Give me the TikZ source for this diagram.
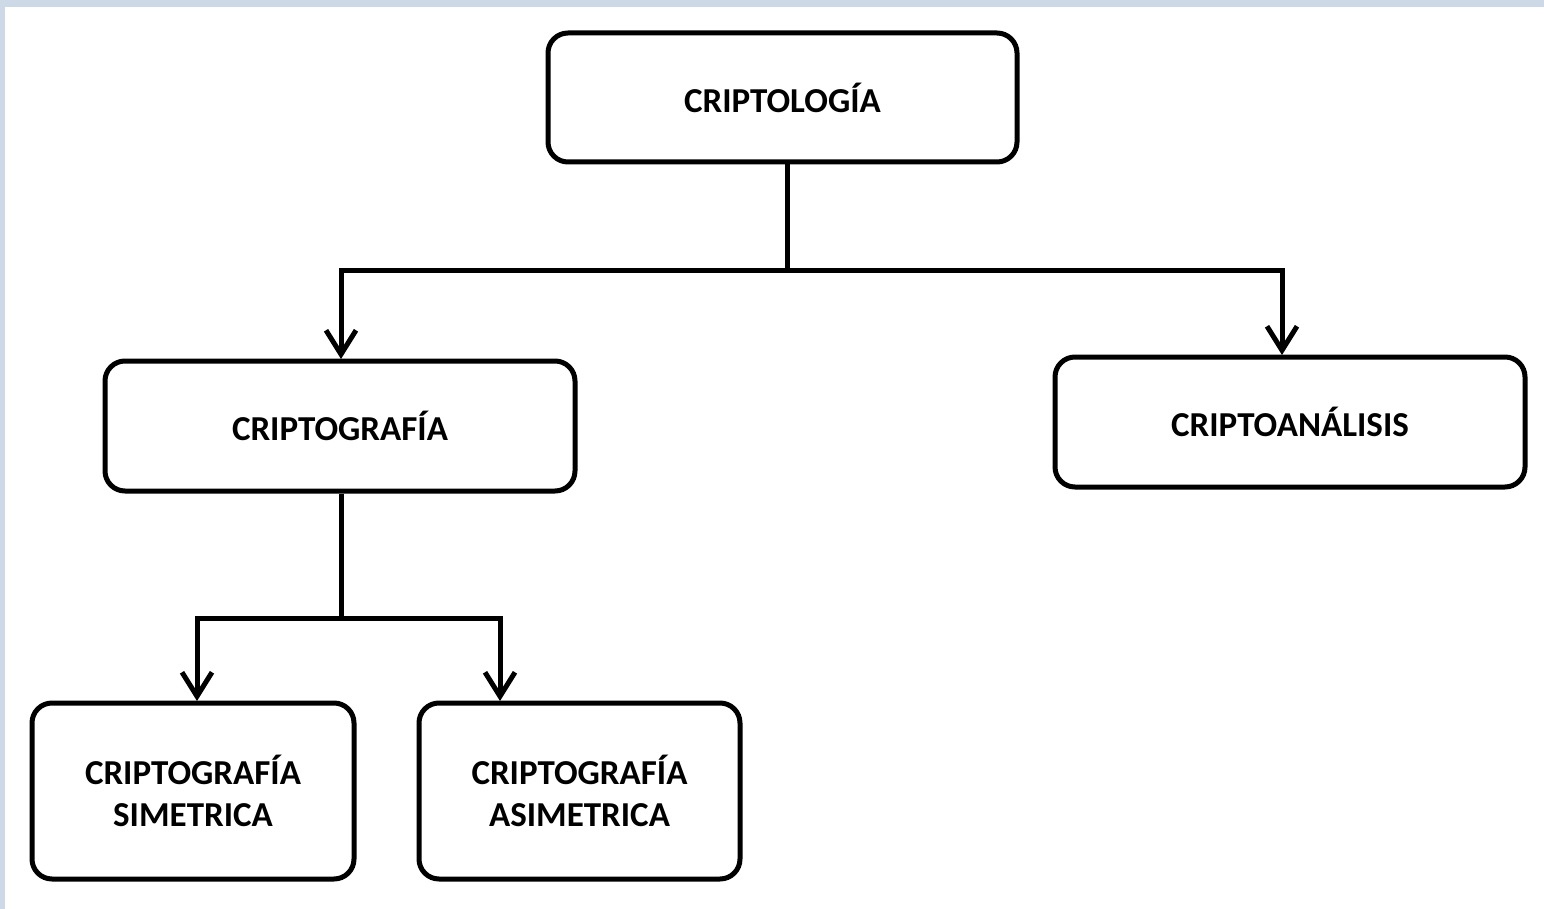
\documentclass[tikz,border=0pt]{standalone}
\usepackage{fontspec}
\setmainfont{Carlito}
\usetikzlibrary{arrows.meta}
\definecolor{framecol}{RGB}{205,217,230}
\begin{document}
\begin{tikzpicture}[x=1pt,y=-1pt,
  box/.style={draw=black,line width=5pt,rounded corners=20pt,fill=white,align=center,
    font=\bfseries\fontsize{35}{42}\selectfont,inner sep=0pt},
  conn/.style={line width=5pt,draw=black},
  arr/.style={conn,-{Straight Barb[length=24pt,width=30pt,line width=5pt]}}]
\useasboundingbox (0,0) rectangle (1544,909);
\fill[white] (0,0) rectangle (1544,909);
\fill[framecol] (0,0) rectangle (1544,7);
\fill[framecol] (0,0) rectangle (5,909);
\node[box,minimum width=469pt,minimum height=129pt] (root) at (782.5,97.5) {CRIPTOLOGÍA};
\node[box,minimum width=470pt,minimum height=130pt] (cg) at (340,426) {CRIPTOGRAFÍA};
\node[box,minimum width=470pt,minimum height=130pt] (ca) at (1290,422) {CRIPTOANÁLISIS};
\node[box,minimum width=322pt,minimum height=176pt] (sim) at (193,791) {CRIPTOGRAFÍA\\SIMETRICA};
\node[box,minimum width=321pt,minimum height=176pt] (asim) at (579.5,791) {CRIPTOGRAFÍA\\ASIMETRICA};
\coordinate (j1) at (787,271);
\coordinate (j2) at (341,618);
\draw[conn] (root.south -| j1) -- (j1);
\draw[arr] (j1) -- (341,271) -- (341,361-2);
\draw[arr] (j1) -- (1282,271) -- (1282,357-2);
\draw[conn] (cg.south -| j2) -- (j2);
\draw[arr] (j2) -- (197,618) -- (197,703-2);
\draw[arr] (j2) -- (500,618) -- (500,703-2);
\end{tikzpicture}
\end{document}
